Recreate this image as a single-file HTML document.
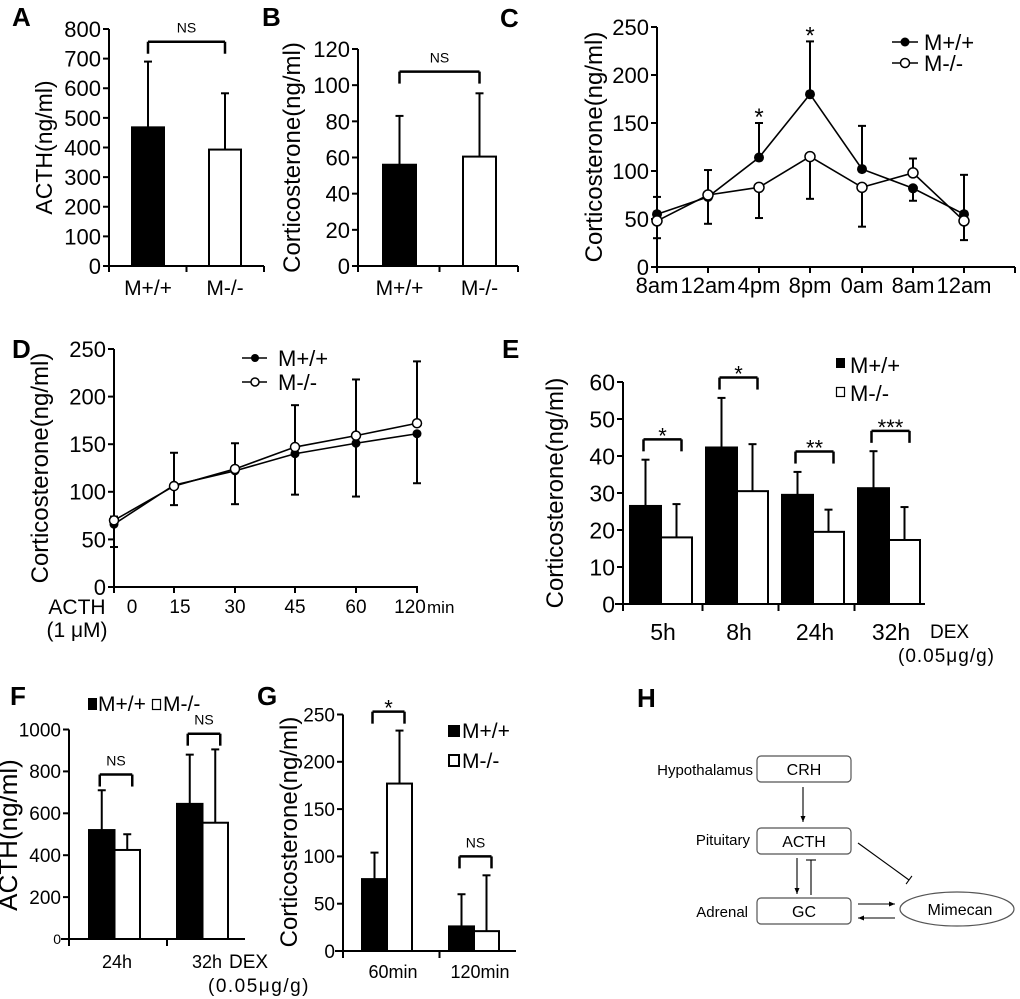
<!DOCTYPE html>
<html><head><meta charset="utf-8"><style>
html,body{margin:0;padding:0;background:#fff;}
svg{display:block;font-family:"Liberation Sans",Arial,sans-serif;}
</style></head><body>
<svg id="fig" width="1020" height="999" viewBox="0 0 1020 999" xmlns="http://www.w3.org/2000/svg"></svg>
<script>
// ---------- DATA ----------
const A_cats=['M+/+','M-/-'];
const A_vals=[468,393];
const A_sd=[222,190];
const A_ticks=[0,100,200,300,400,500,600,700,800];

const B_cats=['M+/+','M-/-'];
const B_vals=[56,60.5];
const B_sd=[27,35];
const B_ticks=[0,20,40,60,80,100,120];

const C_times=['8am','12am','4pm','8pm','0am','8am','12am'];
const C_wt=[55,73,114,180,102,82,55];
const C_ko=[48,75,83,115,83,98,48];
const C_wt_sd=[18,28,36,55,45,13,41];
const C_ko_sd=[18,26,32,44,41,15,20];
const C_sig=['','','*','*','','',''];
const C_ticks=[0,50,100,150,200,250];

const D_times=['0','15','30','45','60','120'];
const D_wt=[66,107,122,140,151,161];
const D_ko=[70,106,124,147,159,172];
const D_wt_sd=[24,21,35,43,56,52];
const D_ko_sd=[4,35,27,44,59,65];
const D_ticks=[0,50,100,150,200,250];

const E_cats=['5h','8h','24h','32h'];
const E_wt=[26.5,42.3,29.5,31.3];
const E_ko=[18,30.5,19.5,17.3];
const E_wt_sd=[12.5,13.4,6.2,10];
const E_ko_sd=[9,12.7,6,8.9];
const E_sig=['*','*','**','***'];
const E_ticks=[0,10,20,30,40,50,60];

const F_cats=['24h','32h'];
const F_wt=[520,645];
const F_ko=[425,555];
const F_wt_sd=[190,235];
const F_ko_sd=[75,350];
const F_sig=['NS','NS'];
const F_ticks=[0,200,400,600,800,1000];

const G_cats=['60min','120min'];
const G_wt=[76,26];
const G_ko=[177,21];
const G_wt_sd=[28,34];
const G_ko_sd=[56,59];
const G_sig=['*','NS'];
const G_ticks=[0,50,100,150,200,250];

// ---------- HELPERS ----------
const svg=document.getElementById('fig');
const NS='http://www.w3.org/2000/svg';
function mk(tag,attrs,parent){const e=document.createElementNS(NS,tag);for(const k in attrs)e.setAttribute(k,attrs[k]);(parent||svg).appendChild(e);return e;}
function line(x1,y1,x2,y2,name,w,p){const e=mk('line',{x1,y1,x2,y2,stroke:'#000','stroke-width':w||2},p);


return e;}
function txt(x,y,s,size,name,anchor,weight,p,extra){const e=mk('text',Object.assign({x,y,'font-size':size,'text-anchor':anchor||'start','font-weight':weight||'normal',fill:'#000'},extra||{}),p);e.textContent=s;


return e;}
function group(name){const g=mk('g',{});


return g;}
function yAxis(g,ax,y0,per,top,ticks,fs,pre){
  line(ax,y0,ax,y0-top*per,pre+'-y-axis',2,g);
  ticks.forEach(t=>{const y=y0-t*per;line(ax-6,y,ax,y,pre+'-y-tick',2,g);
    const f=(pre==='f'&&t===0)?14:fs;
    txt(ax-8,y+f*0.36,String(t),f,pre+'-y-tick-label','end','normal',g);});
}
function ylabel(g,x,y,s,pre,fs){const e=txt(x,y,s,fs||24,pre+'-y-axis-title','middle','normal',g,{transform:`rotate(-90 ${x} ${y})`});return e;}
function errbar(g,cx,yv,yt,name){line(cx,yv,cx,yt,name,2,g);line(cx-4,yt,cx+4,yt,name+'-cap',2,g);}
function bar(g,x,w,y0,y,fill,name){const r=mk('rect',{x,y,width:w,height:y0-y,fill,stroke:'#000','stroke-width':2},g);


return r;}
function bracket(g,x1,x2,y,label,fs,pre){
  line(x1,y,x2,y,pre+'-bracket',2.5,g);line(x1,y,x1,y+12,pre+'-bracket-leg',2.5,g);line(x2,y,x2,y+12,pre+'-bracket-leg',2.5,g);
  const isNS=label==='NS';
  txt((x1+x2)/2,isNS?y-9:y+4,label,isNS?14:22,pre+'-significance','middle','normal',g);
}
function panelLetter(x,y,s){txt(x,y,s,26,'panel-label-'+s.toLowerCase(),'start','bold');}

// ---------- PANEL A & B (single bars) ----------
function simpleBar(pre,ax,y0,per,xEnd,centers,bw,cats,vals,sd,ticks,yl,ylx,pad,ylfs){
  const g=group('panel-'+pre);
  yAxis(g,ax,y0,per,ticks[ticks.length-1],ticks,22,pre);
  line(ax-1,y0,xEnd,y0,pre+'-x-axis',2,g);
  line(xEnd,y0,xEnd,y0+6,pre+'-x-tick',2,g);line(ax,y0,ax,y0+6,pre+'-x-tick',2,g);
  line((centers[0]+centers[1])/2,y0,(centers[0]+centers[1])/2,y0+6,pre+'-x-tick',2,g);
  let maxTop=0;
  vals.forEach((v,i)=>{const y=y0-v*per;bar(g,centers[i]-bw/2,bw,y0,y,i===0?'#000':'#fff',pre+'-bar-'+(i===0?'wt':'ko'));
    const top=v+sd[i];maxTop=Math.max(maxTop,top);errbar(g,centers[i],y,y0-top*per,pre+'-error-bar');
    txt(centers[i],y0+29,cats[i],21,pre+'-x-tick-label','middle','normal',g);});
  bracket(g,centers[0],centers[1],y0-(maxTop+pad)*per,'NS',14,pre);
  ylabel(g,ylx,(y0+y0-ticks[ticks.length-1]*per)/2,yl,pre,ylfs);
}
simpleBar('a',109,266,237/800,264,[148,225],32,A_cats,A_vals,A_sd,A_ticks,'ACTH(ng/ml)',52,67,23);
simpleBar('b',358,266,217/120,518,[399.5,479.5],33,B_cats,B_vals,B_sd,B_ticks,'Corticosterone(ng/ml)',300,12,24);
panelLetter(12,26,'A');panelLetter(262,26,'B');

// ---------- LINE CHARTS ----------
function lineChart(pre,ax,y0,per,xEnd,xs,labels,wt,ko,wsd,ksd,ticks,fixedDir,r){
  const g=group('panel-'+pre);
  yAxis(g,ax,y0,per,250,ticks,22,pre);
  line(ax-1,y0,xEnd,y0,pre+'-x-axis',2,g);
  xs.forEach(x=>line(x,y0,x,y0+6,pre+'-x-tick',2,g));
  if(pre==='c')line(xEnd,y0,xEnd,y0+6,pre+'-x-tick',2,g);
  const Y=v=>y0-v*per;
  xs.forEach((x,i)=>{
    let wUp,kUp;
    if(fixedDir){wUp=false;kUp=true;}else{wUp=wt[i]>=ko[i];kUp=!wUp;}
    errbar(g,x,Y(wt[i]),Y(wt[i]+(wUp?wsd[i]:-wsd[i])),pre+'-error-bar-wt');
    errbar(g,x,Y(ko[i]),Y(ko[i]+(kUp?ksd[i]:-ksd[i])),pre+'-error-bar-ko');
  });
  const pw=mk('polyline',{points:xs.map((x,i)=>x+','+Y(wt[i])).join(' '),fill:'none',stroke:'#000','stroke-width':1.6},g);
  
  
  const pk=mk('polyline',{points:xs.map((x,i)=>x+','+Y(ko[i])).join(' '),fill:'none',stroke:'#000','stroke-width':1.6},g);
  
  
  xs.forEach((x,i)=>{
    const a=mk('circle',{cx:x,cy:Y(wt[i]),r:r,fill:'#000'},g);
    
    
    const b=mk('circle',{cx:x,cy:Y(ko[i]),r:r,fill:'#fff',stroke:'#000','stroke-width':1.5},g);
    
    
  });
  return {g,Y};
}
// Panel C
const cx=[657,708,759,810,862,913,964];
const C=lineChart('c',657,267,240/250,1015,cx,C_times,C_wt,C_ko,C_wt_sd,C_ko_sd,C_ticks,false,5);
cx.forEach((x,i)=>{txt(x,293,C_times[i],22,'c-x-tick-label','middle','normal',C.g);
  if(C_sig[i])txt(x,C.Y(C_wt[i]+C_wt_sd[i])+2,C_sig[i],24,'c-significance','middle','normal',C.g);});
ylabel(C.g,602,147,'Corticosterone(ng/ml)','c',24);
line(892,42,918,42,'c-legend-line-wt',1.6,C.g);
{const m=mk('circle',{cx:905,cy:42,r:4.5,fill:'#000'},C.g);

}
txt(924,50,'M+/+',22,'c-legend-label-wt','start','normal',C.g);
line(892,63,918,63,'c-legend-line-ko',1.6,C.g);
{const m=mk('circle',{cx:905,cy:63,r:4.5,fill:'#fff',stroke:'#000','stroke-width':1.5},C.g);

}
txt(924,71,'M-/-',22,'c-legend-label-ko','start','normal',C.g);
panelLetter(500,27,'C');

// Panel D
const dx=[114,174,235,295,356,417];
const D=lineChart('d',114,587,238/250,418,dx,D_times,D_wt,D_ko,D_wt_sd,D_ko_sd,D_ticks,true,4.5);
const dlx=[132,180,235,295,356,410];
dx.forEach((x,i)=>txt(dlx[i],613,D_times[i],19,'d-x-tick-label','middle','normal',D.g));
txt(427,613,'min',17,'d-x-unit','start','normal',D.g);
txt(77,614,'ACTH',21,'d-treatment-label','middle','normal',D.g);
txt(77,637,'(1 \u03bcM)',21,'d-treatment-dose','middle','normal',D.g);
ylabel(D.g,48,468,'Corticosterone(ng/ml)','d',24);
line(242,358,267,358,'d-legend-line-wt',1.6,D.g);
{const m=mk('circle',{cx:255,cy:358,r:4,fill:'#000'},D.g);

}
txt(278,366,'M+/+',22,'d-legend-label-wt','start','normal',D.g);
line(242,382,267,382,'d-legend-line-ko',1.6,D.g);
{const m=mk('circle',{cx:255,cy:382,r:4,fill:'#fff',stroke:'#000','stroke-width':1.5},D.g);

}
txt(278,390,'M-/-',22,'d-legend-label-ko','start','normal',D.g);
panelLetter(12,358,'D');

// ---------- GROUPED BAR CHARTS ----------
function groupedBar(pre,ax,y0,per,xEnd,off,gw,bw,cats,wt,ko,wsd,ksd,ticks,sig,pad,fs){
  const g=group('panel-'+pre);
  const top=ticks[ticks.length-1];
  yAxis(g,ax,y0,per,top,ticks,fs,pre);
  line(ax-8,y0,xEnd,y0,pre+'-x-axis',2,g);
  for(let i=1;i<cats.length;i++){const x=ax+i*gw+off/2;line(x,y0,x,y0+7,pre+'-x-tick',2,g);}
  line(ax,y0,ax,y0+7,pre+'-x-tick',2,g);
  const Y=v=>y0-v*per;
  const centers=[];
  cats.forEach((c,i)=>{
    const x=ax+off+i*gw;
    bar(g,x,bw,y0,Y(wt[i]),'#000',pre+'-bar-wt-'+c);
    bar(g,x+bw,bw,y0,Y(ko[i]),'#fff',pre+'-bar-ko-'+c);
    const c1=x+bw/2,c2=x+bw*1.5;
    errbar(g,c1,Y(wt[i]),Y(wt[i]+wsd[i]),pre+'-error-bar-wt');
    errbar(g,c2,Y(ko[i]),Y(ko[i]+ksd[i]),pre+'-error-bar-ko');
    const mt=Math.max(wt[i]+wsd[i],ko[i]+ksd[i]);
    bracket(g,c1-2,c2+5,Y(mt+pad),sig[i],14,pre);
    centers.push(x+bw);
  });
  return {g,Y,centers};
}
// Panel E
const E=groupedBar('e',623,604,222/60,925,7,76,31,E_cats,E_wt,E_ko,E_wt_sd,E_ko_sd,E_ticks,E_sig,5.5,23);
E.centers.forEach((c,i)=>txt(c+2,640,E_cats[i],23,'e-x-tick-label','middle','normal',E.g));
txt(930,638,'DEX',19,'e-treatment-label','start','normal',E.g);
txt(898,662,'(0.05\u03bcg/g)',19,'e-treatment-dose','start','normal',E.g,{'letter-spacing':'1'});
ylabel(E.g,563,493,'Corticosterone(ng/ml)','e',24);
{const s=mk('rect',{x:836,y:358,width:9,height:10,fill:'#000'},E.g);


const t=mk('rect',{x:836.5,y:387.5,width:8,height:9,fill:'#fff',stroke:'#000','stroke-width':1.2},E.g);

}
txt(850,373,'M+/+',22,'e-legend-label-wt','start','normal',E.g);
txt(850,401,'M-/-',22,'e-legend-label-ko','start','normal',E.g);
panelLetter(502,358,'E');

// Panel F
const F=groupedBar('f',69,939,209.5/1000,245,20,88,25.5,F_cats,F_wt,F_ko,F_wt_sd,F_ko_sd,F_ticks,F_sig,75,19);
txt(117,968,'24h',18,'f-x-tick-label','middle','normal',F.g);
txt(192,968,'32h',18,'f-x-tick-label','start','normal',F.g);
txt(229,968,'DEX',19,'f-treatment-label','start','normal',F.g);
txt(208,992,'(0.05\u03bcg/g)',19,'f-treatment-dose','start','normal',F.g,{'letter-spacing':'1.5'});
ylabel(F.g,17,835,'ACTH(ng/ml)','f',26);
{const s=mk('rect',{x:88,y:698,width:9,height:12,fill:'#000'},F.g);


const t=mk('rect',{x:152.5,y:699.5,width:8,height:10,fill:'#fff',stroke:'#000','stroke-width':1.2},F.g);

}
txt(98,711,'M+/+',21,'f-legend-label-wt','start','normal',F.g);
txt(163,711,'M-/-',21,'f-legend-label-ko','start','normal',F.g);
panelLetter(10,705,'F');

// Panel G
const G=groupedBar('g',343,951,236.5/250,516,19,87,25,G_cats,G_wt,G_ko,G_wt_sd,G_ko_sd,G_ticks,G_sig,20,19);
txt(393,978,'60min',18,'g-x-tick-label','middle','normal',G.g);
txt(480,978,'120min',18,'g-x-tick-label','middle','normal',G.g);
ylabel(G.g,297,832,'Corticosterone(ng/ml)','g',24);
{const s=mk('rect',{x:448,y:725,width:12,height:12,fill:'#000'},G.g);


const t=mk('rect',{x:449,y:755,width:10,height:11,fill:'#fff',stroke:'#000','stroke-width':2},G.g);

}
txt(462,738,'M+/+',21,'g-legend-label-wt','start','normal',G.g);
txt(462,768,'M-/-',21,'g-legend-label-ko','start','normal',G.g);
panelLetter(257,705,'G');

// ---------- PANEL H (diagram) ----------
const H=group('panel-h');
function box(y,label,name){const r=mk('rect',{x:757,y,width:94,height:26,rx:4,fill:'#fff',stroke:'#555','stroke-width':1.2},H);


txt(804,y+19,label,16,name+'-label','middle','normal',H);}
box(756,'CRH','crh-box');box(828,'ACTH','acth-box');box(898,'GC','gc-box');
txt(753,775,'Hypothalamus',15,'hypothalamus-label','end','normal',H);
txt(750,845,'Pituitary',15,'pituitary-label','end','normal',H);
txt(748,917,'Adrenal',15,'adrenal-label','end','normal',H);
{const e=mk('ellipse',{cx:957,cy:909,rx:57,ry:17,fill:'#fff',stroke:'#555','stroke-width':1.2},H);

}
txt(960,915,'Mimecan',16,'mimecan-label','middle','normal',H);
function arrow(x1,y1,x2,y2,name){line(x1,y1,x2,y2,name,1.1,H);
const a=Math.atan2(y2-y1,x2-x1),L=6,w=2.5;
const p=mk('polygon',{points:`${x2},${y2} ${x2-L*Math.cos(a)+w*Math.sin(a)},${y2-L*Math.sin(a)-w*Math.cos(a)} ${x2-L*Math.cos(a)-w*Math.sin(a)},${y2-L*Math.sin(a)+w*Math.cos(a)}`,fill:'#000'},H);

}
function inhibit(x1,y1,x2,y2,name){line(x1,y1,x2,y2,name,1.1,H);
const a=Math.atan2(y2-y1,x2-x1),w=5;
line(x2+w*Math.sin(a),y2-w*Math.cos(a),x2-w*Math.sin(a),y2+w*Math.cos(a),name+'-bar',1.1,H);}
arrow(803,787,803,822,'crh-to-acth-arrow');
arrow(797,858,797,894,'acth-to-gc-arrow');
inhibit(811,895,811,860,'gc-inhibits-acth');
inhibit(858,843,909,880,'acth-inhibits-mimecan');
arrow(858,904,895,904,'gc-to-mimecan-arrow');
arrow(895,918,858,918,'mimecan-to-gc-arrow');
panelLetter(637,707,'H');
</script>
</body></html>
